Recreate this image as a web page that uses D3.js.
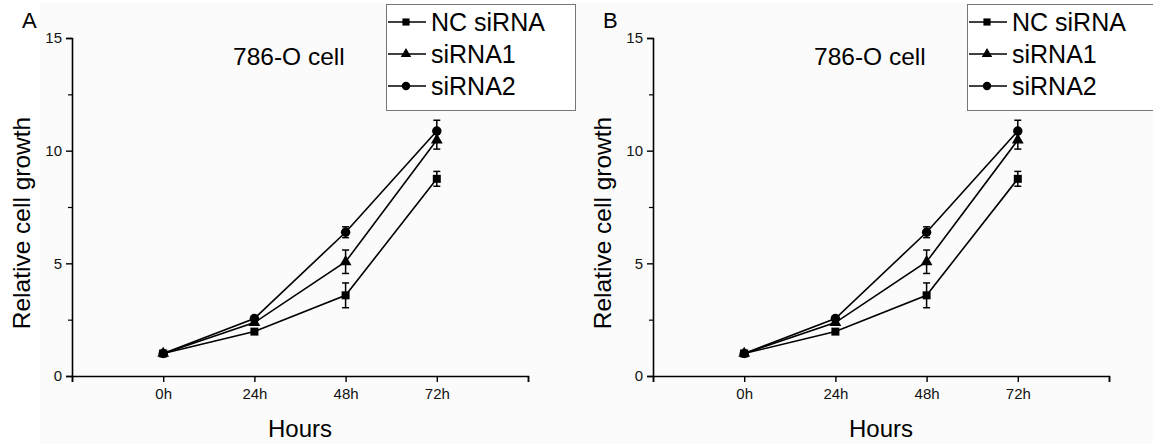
<!DOCTYPE html>
<meta charset="utf-8">
<script src="https://d3js.org/d3.v7.min.js"></script>
<style>
 body { margin: 0; background: #ffffff; }
 svg { display: block; font-family: "Liberation Sans", Arial, sans-serif; }
</style>
<div id="chart"></div>
<script>
 // data (both panels show the same values)
 const hours = ["0h", "24h", "48h", "72h"];
 const ncSiRNA   = [1.0, 1.97, 3.58, 8.75];
 const ncErr     = [0.12, 0.1, 0.55, 0.33];
 const siRNA1    = [1.0, 2.37, 5.07, 10.47];
 const siRNA1Err = [0.12, 0.1, 0.52, 0.4];
 const siRNA2    = [1.0, 2.55, 6.38, 10.87];
 const siRNA2Err = [0.1, 0.1, 0.24, 0.48];
 const yTicks = [0, 5, 10, 15];
 const yMinor = [2.5, 7.5, 12.5];
 const panels = ["A", "B"];

 const series = [
   {name: "NC siRNA", values: ncSiRNA, err: ncErr, shape: d3.symbolSquare, size: 64},
   {name: "siRNA1", values: siRNA1, err: siRNA1Err, shape: d3.symbolTriangle, size: 60},
   {name: "siRNA2", values: siRNA2, err: siRNA2Err, shape: d3.symbolCircle, size: 70}
 ];

 const W = 1153, H = 444, panelShift = 581;
 const font = "Liberation Sans, Arial, sans-serif";

 const svg = d3.select("#chart").append("svg")
   .attr("width", W).attr("height", H);

 svg.append("rect").attr("x", 40).attr("y", 3).attr("width", W - 40).attr("height", H - 3)
   .attr("fill", "#fbfbfb");

 // x: categories sit at 1..4 on a 0..5 axis
 const x = d3.scaleLinear().domain([0, 5]).range([72, 528]);
 const y = d3.scaleLinear().domain([0, 15]).range([376, 38]);

 panels.forEach((label, pi) => {
   const g = svg.append("g").attr("transform", `translate(${pi * panelShift},0)`);

   g.append("text").attr("x", 22).attr("y", 28).text(label)
     .attr("font-size", 22).attr("fill", "#000");

   // y axis
   const yAxis = g.append("g").attr("transform", `translate(${x(0)},0)`)
     .call(d3.axisLeft(y).tickValues(yTicks).tickSize(6).tickPadding(4).tickFormat(d3.format("d")))
     .attr("font-family", font).attr("font-size", 15);
   yAxis.select(".domain").attr("stroke-width", 1.6);
   yAxis.selectAll(".tick line").attr("stroke-width", 1.4);
   yAxis.selectAll("text").attr("fill", "#111");
   g.append("g").attr("transform", `translate(${x(0)},0)`)
     .call(d3.axisLeft(y).tickValues(yMinor).tickSize(4).tickFormat(""))
     .call(a => a.select(".domain").remove())
     .selectAll("line").attr("stroke-width", 1.2);

   // x axis
   const xAxis = g.append("g").attr("transform", `translate(0,${y(0)})`)
     .call(d3.axisBottom(x).tickValues([0, 1, 2, 3, 4, 5]).tickSize(6).tickPadding(6)
       .tickFormat(d => (d >= 1 && d <= 4) ? hours[d - 1] : ""))
     .attr("font-family", font).attr("font-size", 15);
   xAxis.select(".domain").attr("stroke-width", 1.6);
   xAxis.selectAll(".tick line").attr("stroke-width", 1.4);
   xAxis.selectAll("text").attr("fill", "#111");

   // axis titles
   g.append("text").attr("x", 300).attr("y", 437).attr("text-anchor", "middle")
     .attr("font-size", 24).text("Hours");
   g.append("text").attr("transform", "translate(30,223) rotate(-90)")
     .attr("text-anchor", "middle").attr("font-size", 24.5).text("Relative cell growth");

   g.append("text").attr("x", 233).attr("y", 65).attr("font-size", 24.5).text("786-O cell");

   // lines, error bars, markers
   const line = d3.line().x((d, i) => x(i + 1)).y(d => y(d));
   series.forEach(s => {
     g.append("path").datum(s.values).attr("d", line)
       .attr("fill", "none").attr("stroke", "#000").attr("stroke-width", 1.6);

     const eb = g.append("g").selectAll("g").data(s.values).join("g");
     eb.append("line")
       .attr("x1", (d, i) => x(i + 1)).attr("x2", (d, i) => x(i + 1))
       .attr("y1", (d, i) => y(d - s.err[i])).attr("y2", (d, i) => y(d + s.err[i]))
       .attr("stroke", "#000").attr("stroke-width", 1.5);
     [-1, 1].forEach(sign => {
       eb.append("line")
         .attr("x1", (d, i) => x(i + 1) - 3.5).attr("x2", (d, i) => x(i + 1) + 3.5)
         .attr("y1", (d, i) => y(d + sign * s.err[i])).attr("y2", (d, i) => y(d + sign * s.err[i]))
         .attr("stroke", "#000").attr("stroke-width", 1.5);
     });

     g.append("g").selectAll("path").data(s.values).join("path")
       .attr("d", d3.symbol().type(s.shape).size(s.size))
       .attr("transform", (d, i) => `translate(${x(i + 1)},${y(d)})`)
       .attr("fill", "#000");
   });

   // legend
   const lg = g.append("g");
   lg.append("rect").attr("x", 386.5).attr("y", 4.5).attr("width", 189).attr("height", 106)
     .attr("fill", "#fff").attr("stroke", "#777").attr("stroke-width", 1);
   series.forEach((s, i) => {
     const cy = 22 + i * 32;
     lg.append("line").attr("x1", 388).attr("x2", 426).attr("y1", cy).attr("y2", cy)
       .attr("stroke", "#000").attr("stroke-width", 1.5);
     lg.append("path").attr("d", d3.symbol().type(s.shape).size(s.size * 0.8))
       .attr("transform", `translate(406,${cy})`).attr("fill", "#000");
     lg.append("text").attr("x", 431).attr("y", cy + 9).attr("font-size", 25).text(s.name);
   });
 });
</script>
